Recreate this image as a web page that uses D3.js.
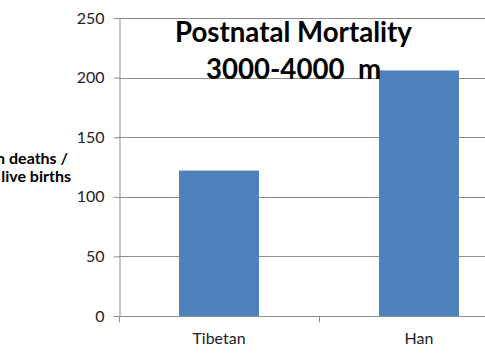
<!DOCTYPE html>
<html>
<head>
<meta charset="utf-8">
<script src="https://cdn.jsdelivr.net/npm/d3@7"></script>
<style>
  html, body { margin: 0; padding: 0; background: #fff; overflow: hidden; }
  svg { display: block; }
  text { font-family: Lato, "Open Sans", sans-serif; }
</style>
</head>
<body>
<script>
const categories = ["Tibetan", "Han"];
const values = [122, 206];
const yTicks = [0, 50, 100, 150, 200, 250];
const titleLines = ["Postnatal Mortality", "3000-4000  m"];
const yTitleLines = ["Children deaths /", "per 1000 of the live births"];

const W = 485, H = 358;
const svg = d3.select("body").append("svg").attr("width", W).attr("height", H);

const x0 = 119, x1 = 519, yTop = 18, yBot = 316;
const x = d3.scaleBand().domain(categories).range([x0, x1]).paddingInner(0.6).paddingOuter(0.3);
const y = d3.scaleLinear().domain([0, 250]).range([yBot, yTop]);

const gridColor = "#8c8c8c";

// gridlines
svg.append("g").selectAll("line").data(yTicks.filter(d => d > 0)).join("line")
  .attr("x1", x0).attr("x2", x1)
  .attr("y1", d => Math.round(y(d)) + 0.5).attr("y2", d => Math.round(y(d)) + 0.5)
  .attr("stroke", gridColor).attr("stroke-width", 1);

// bars
svg.append("g").selectAll("rect").data(categories).join("rect")
  .attr("x", d => x(d)).attr("width", x.bandwidth())
  .attr("y", (d, i) => y(values[i])).attr("height", (d, i) => yBot - y(values[i]))
  .attr("fill", "#4F81BD");

// y axis
const yAxis = svg.append("g").attr("transform", `translate(${x0 + 0.5},0)`)
  .call(d3.axisLeft(y).tickValues(yTicks).tickSize(6).tickPadding(9).tickSizeOuter(0));
yAxis.select(".domain").attr("stroke", gridColor);
yAxis.selectAll(".tick line").attr("stroke", gridColor);
yAxis.selectAll(".tick text").attr("font-size", 16).attr("fill", "#222").attr("font-family", "Lato");
// axis line continues slightly below zero
svg.append("line").attr("x1", x0 + 0.5).attr("x2", x0 + 0.5).attr("y1", yBot).attr("y2", yBot + 6).attr("stroke", gridColor);

// x axis
const xAxisG = svg.append("g").attr("transform", `translate(0,${yBot + 0.5})`);
xAxisG.append("line").attr("x1", x0).attr("x2", x1).attr("stroke", gridColor);
const boundaries = [x0, (x0 + x1) / 2, x1];
xAxisG.selectAll("line.tk").data(boundaries).join("line").attr("class", "tk")
  .attr("x1", d => d + 0.5).attr("x2", d => d + 0.5).attr("y1", 0).attr("y2", 6).attr("stroke", gridColor);
xAxisG.selectAll("text").data(categories).join("text")
  .attr("x", d => x(d) + x.bandwidth() / 2).attr("y", 27)
  .attr("text-anchor", "middle").attr("font-size", 16).attr("fill", "#222")
  .text(d => d);

// title: both lines same size, first line fitted to the reference width
const tY = [42, 79];
const tEls = titleLines.map((t, i) =>
  svg.append("text").attr("x", 293.5).attr("y", tY[i])
    .attr("text-anchor", "middle").attr("font-weight", "bold").attr("font-size", 25)
    .attr("fill", "#000").style("white-space", "pre").text(t));
const fs = 25 * 237 / tEls[0].node().getComputedTextLength();
tEls.forEach(el => el.attr("font-size", fs));

// y title (clipped at left edge, as in the reference)
const ytX = [68, 71], ytY = [164, 182];
yTitleLines.forEach((t, i) => {
  svg.append("text").attr("x", ytX[i]).attr("y", ytY[i])
    .attr("text-anchor", "end").attr("font-weight", "bold").attr("font-size", 16)
    .attr("fill", "#000").text(t);
});
</script>
</body>
</html>
